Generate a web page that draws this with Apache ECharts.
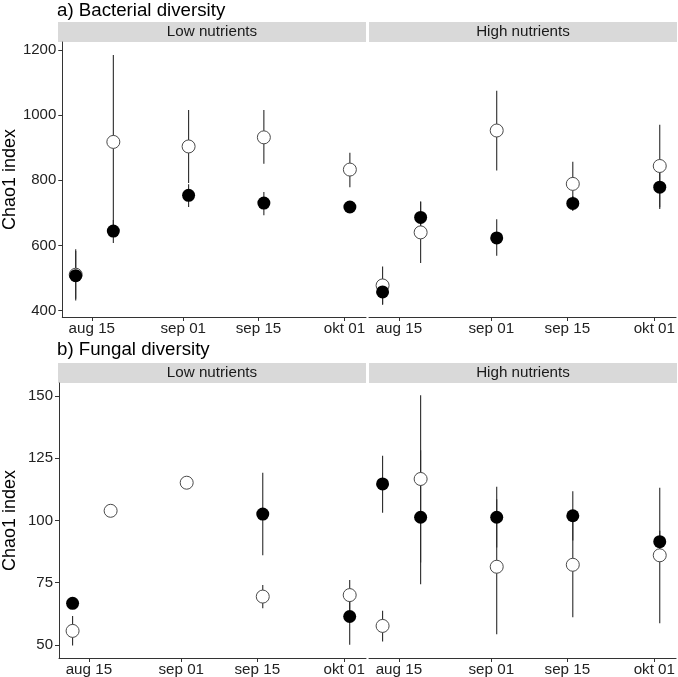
<!DOCTYPE html>
<html lang="en">
<head>
	<meta charset="UTF-8">
	<title>Chao1 diversity</title>
	<style type="text/css">
	body,html{
		width: 100%;
		height: 100%;
		margin: 0;
		padding: 0;
		background: #fff;
	}
	#container{
		width: 678px;
		height: 677px;
	}
	</style>
</head>
<body>
<div id="container"></div>
<script type="text/javascript" src="https://cdn.jsdelivr.net/npm/echarts@6/dist/echarts.min.js"></script>
<script type="text/javascript">
	// sampling dates
	var dates = ['2019-08-12', '2019-08-19', '2019-09-02', '2019-09-16', '2019-10-02'];
	var xTicks = ['2019-08-15', '2019-09-01', '2019-09-15', '2019-10-01'];
	var monthNames = ['jan', 'feb', 'mar', 'apr', 'maj', 'jun', 'jul', 'aug', 'sep', 'okt', 'nov', 'dec'];

	// [mean, lower, upper] per date
	var bacLowOpen = [[510, 436, 588], [918, 651, 1185], [904, 792, 1016], [932, 851, 1016], [833, 779, 885]];
	var bacLowFilled = [[507, 431, 583], [644, 607, 678], [754, 718, 788], [730, 693, 764], [718, 708, 728]];
	var bacHighOpen = [[477, 419, 535], [640, 546, 734], [953, 830, 1075], [789, 721, 857], [844, 717, 971]];
	var bacHighFilled = [[457, 418, 496], [686, 637, 735], [623, 568, 680], [729, 706, 752], [779, 712, 828]];

	var funLowOpen = [[55.6, 49.7, 61.6], [103.9, null, null], [115.2, null, null], [69.4, 64.7, 74.1], [70.0, 63.9, 76.1]];
	var funLowFilled = [[66.7, 65.2, 68.2], [null, null, null], [null, null, null], [102.6, 86.0, 119.2], [61.4, 50.0, 72.8]];
	var funHighOpen = [[57.6, 51.3, 63.7], [116.7, 83.1, 150.4], [81.4, 54.3, 108.5], [82.2, 61.1, 103.3], [86.0, 58.7, 113.2]];
	var funHighFilled = [[114.7, 103.1, 126.0], [101.3, 74.4, 128.3], [101.3, 89.1, 113.6], [101.9, 92.0, 111.8], [91.5, 87.1, 95.9]];

	var bacTicks = [400, 600, 800, 1000, 1200];
	var funTicks = [50, 75, 100, 125, 150];

	var FONT = 'Liberation Sans, Arial, sans-serif';

	function ts(s) {
		var p = s.split('-');
		return new Date(+p[0], +p[1] - 1, +p[2]).getTime();
	}
	var xTickValues = xTicks.map(ts);

	function fmtDate(v) {
		var d = new Date(v);
		var day = d.getDate();
		return monthNames[d.getMonth()] + ' ' + (day < 10 ? '0' + day : day);
	}

	function pointData(rows) {
		var out = [];
		rows.forEach(function (r, i) {
			if (r[0] != null) out.push([ts(dates[i]), r[0]]);
		});
		return out;
	}
	function barData(rows) {
		var out = [];
		rows.forEach(function (r, i) {
			if (r[1] != null) out.push([ts(dates[i]), r[1], r[2]]);
		});
		return out;
	}

	function renderBar(params, api) {
		var lo = api.coord([api.value(0), api.value(1)]);
		var hi = api.coord([api.value(0), api.value(2)]);
		return {
			type: 'line',
			shape: { x1: lo[0], y1: lo[1], x2: hi[0], y2: hi[1] },
			style: { stroke: '#2a2a2a', lineWidth: 1.1 }
		};
	}

	var xMin = new Date(2019, 7, 9, 12).getTime();
	var xMax = new Date(2019, 9, 5, 0).getTime();

	var grids = [
		{ left: 58, top: 42, width: 308, height: 275 },
		{ left: 369, top: 42, width: 308, height: 275 },
		{ left: 58, top: 383, width: 308, height: 275 },
		{ left: 369, top: 383, width: 308, height: 275 }
	];

	var xAxes = grids.map(function (g, i) {
		return {
			type: 'value',
			gridIndex: i,
			min: xMin,
			max: xMax,
			splitLine: { show: false },
			axisLine: { lineStyle: { color: '#333', width: 1 } },
			axisTick: { customValues: xTickValues, length: 4, lineStyle: { color: '#333' } },
			axisLabel: {
				customValues: xTickValues,
				formatter: fmtDate,
				color: '#222',
				fontSize: 15.2,
				fontFamily: FONT,
				margin: 4
			}
		};
	});

	var yAxes = grids.map(function (g, i) {
		var bac = i < 2;
		var ticks = bac ? bacTicks : funTicks;
		var leftSide = i % 2 === 0;
		return {
			type: 'value',
			gridIndex: i,
			min: bac ? 380 : 44.7,
			max: bac ? 1225 : 155.3,
			show: leftSide,
			name: leftSide ? 'Chao1 index' : '',
			nameLocation: 'middle',
			nameGap: 40,
			nameTextStyle: { fontSize: 18, color: '#000', fontFamily: FONT },
			splitLine: { show: false },
			axisLine: { show: true, lineStyle: { color: '#333', width: 1 } },
			axisTick: { show: true, customValues: ticks, length: 4, lineStyle: { color: '#333' } },
			axisLabel: {
				customValues: ticks,
				formatter: function (v) { return String(v); },
				color: '#222',
				fontSize: 15,
				fontFamily: FONT,
				margin: 6
			}
		};
	});

	var panels = [
		[bacLowOpen, bacLowFilled],
		[bacHighOpen, bacHighFilled],
		[funLowOpen, funLowFilled],
		[funHighOpen, funHighFilled]
	];

	var series = [];
	panels.forEach(function (p, i) {
		series.push({
			type: 'custom', xAxisIndex: i, yAxisIndex: i, z: 1,
			renderItem: renderBar, encode: { x: 0, y: [1, 2] },
			data: barData(p[0]), silent: true
		});
		series.push({
			type: 'custom', xAxisIndex: i, yAxisIndex: i, z: 1,
			renderItem: renderBar, encode: { x: 0, y: [1, 2] },
			data: barData(p[1]), silent: true
		});
		series.push({
			type: 'scatter', xAxisIndex: i, yAxisIndex: i, z: 2,
			symbol: 'circle', symbolSize: 13,
			itemStyle: { color: '#fff', borderColor: '#4a4a4a', borderWidth: 1, opacity: 1 },
			data: pointData(p[0])
		});
		series.push({
			type: 'scatter', xAxisIndex: i, yAxisIndex: i, z: 3,
			symbol: 'circle', symbolSize: 13,
			itemStyle: { color: '#000', opacity: 1 },
			data: pointData(p[1])
		});
	});

	// facet strips
	var strips = [];
	var stripText = ['Low nutrients', 'High nutrients', 'Low nutrients', 'High nutrients'];
	grids.forEach(function (g, i) {
		strips.push({
			type: 'rect',
			shape: { x: g.left, y: g.top - 20, width: g.width, height: 20 },
			style: { fill: '#d9d9d9' },
			silent: true
		});
		strips.push({
			type: 'text',
			x: g.left + g.width / 2,
			y: g.top - 10,
			style: {
				text: stripText[i],
				fill: '#1a1a1a',
				font: '15.2px ' + FONT,
				align: 'center',
				verticalAlign: 'middle'
			},
			silent: true
		});
	});

	var option = {
		backgroundColor: '#fff',
		animation: false,
		title: [
			{ text: 'a) Bacterial diversity', left: 57, top: 1, padding: 0,
				textStyle: { fontSize: 18.7, fontWeight: 'normal', color: '#000', fontFamily: FONT } },
			{ text: 'b) Fungal diversity', left: 57, top: 340, padding: 0,
				textStyle: { fontSize: 18.7, fontWeight: 'normal', color: '#000', fontFamily: FONT } }
		],
		grid: grids,
		xAxis: xAxes,
		yAxis: yAxes,
		series: series,
		graphic: strips
	};

	var chart = echarts.init(document.getElementById('container'));
	chart.setOption(option, true);
</script>
</body>
</html>
